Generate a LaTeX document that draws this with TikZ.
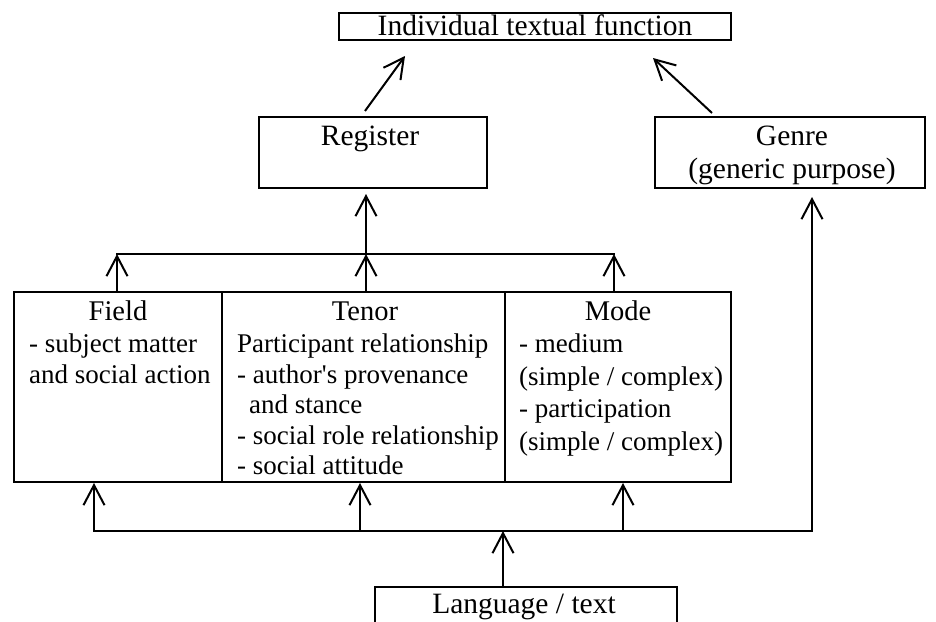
\documentclass[tikz,border=0pt]{standalone}
\usepackage{fontspec}
\setmainfont{Liberation Serif}
\usetikzlibrary{arrows.meta,calc}
\begin{document}
\begin{tikzpicture}[x=1pt,y=-1pt,
  box/.style={draw, line width=2pt, inner sep=0pt, rectangle},
  txt/.style={inner sep=0pt, font=\fontsize{27}{31}\selectfont},
  head/.style={inner sep=0pt, font=\fontsize{28.5}{31}\selectfont},
  big/.style={inner sep=0pt, font=\fontsize{29.5}{31}\selectfont},
  arr/.style={line width=2pt, -{Straight Barb[length=20pt,width=21pt,line width=2pt]}},
  ln/.style={line width=2pt, line cap=rect}]
\useasboundingbox (0,0) rectangle (936,621);
\fill[white] (0,0) rectangle (936,621);
\clip (0,0) rectangle (936,621);

% boxes
\node[box, minimum width=392pt, minimum height=27pt] (itf) at (535,26.5) {};
\node[box, minimum width=228pt, minimum height=71pt] (reg) at (373,152.5) {};
\node[box, minimum width=270pt, minimum height=71pt] (gen) at (790,152.5) {};
\node[box, minimum width=208pt, minimum height=190pt] (field) at (118,387) {};
\node[box, minimum width=283pt, minimum height=190pt] (tenor) at (363.5,387) {};
\node[box, minimum width=226pt, minimum height=190pt] (mode) at (618,387) {};
\node[box, minimum width=302pt, minimum height=60pt] (lang) at (526,617) {};

% texts
\node[big, anchor=base] (itft) at (535,35) {Individual textual function};
\node[big, anchor=base] (regt) at (370,145) {Register};
\node[big, anchor=base] (gent1) at (792,145) {Genre};
\node[big, anchor=base] (gent2) at (792,178) {(generic purpose)};

\node[head, anchor=base] (ft0) at (118,320) {Field};
\node[txt, anchor=base west] (ft1) at (29,352) {- subject matter};
\node[txt, anchor=base west] (ft2) at (29,383) {and social action};

\node[head, anchor=base] (tt0) at (365,320) {Tenor};
\node[txt, anchor=base west] (tt1) at (237,352) {Participant relationship};
\node[txt, anchor=base west] (tt2) at (237,383) {- author\textquotesingle s provenance};
\node[txt, anchor=base west] (tt3) at (249,413) {and stance};
\node[txt, anchor=base west] (tt4) at (237,444) {- social role relationship};
\node[txt, anchor=base west] (tt5) at (237,474) {- social attitude};

\node[head, anchor=base] (mt0) at (618,320) {Mode};
\node[txt, anchor=base west] (mt1) at (519,352) {- medium};
\node[txt, anchor=base west] (mt2) at (519,385) {(simple / complex)};
\node[txt, anchor=base west] (mt3) at (519,417) {- participation};
\node[txt, anchor=base west] (mt4) at (519,450) {(simple / complex)};

\node[big, anchor=base] (langt) at (524,613) {Language / text};

% upper connectors
\draw[arr] ($(reg.north)+(-8,-5)$) -- ($(itf.south)+(-130,15)$);
\draw[arr] ($(gen.north)+(-78,-3)$) -- ($(itf.south)+(118,17)$);

\coordinate (ubl) at (117,254);
\coordinate (ubm) at (366,254);
\coordinate (ubr) at (614,254);
\draw[ln] (ubl) -- (ubr);
\draw[arr] (field.north -| ubl) -- (ubl);
\draw[arr] (tenor.north -| ubm) -- (ubm);
\draw[arr] (mode.north -| ubr) -- (ubr);
\draw[arr] (ubm) -- ($(reg.south)+(-7,5)$);

% lower connectors
\coordinate (lbl) at (94,531);
\coordinate (lbt) at (360,531);
\coordinate (lbc) at (503,531);
\coordinate (lbm) at (623,531);
\coordinate (lbg) at (812,531);
\draw[ln] (lbl) -- (lbg);
\draw[arr] (lbl) -- (lbl |- field.south);
\draw[arr] (lbt) -- (lbt |- tenor.south);
\draw[arr] (lbm) -- (lbm |- mode.south);
\draw[arr, line join=miter] (lbc -| lbl) -- (lbg) -- ($(lbg |- gen.south)+(0,8)$);
\draw[arr] (lbc |- lang.north) -- (lbc);
\end{tikzpicture}
\end{document}
